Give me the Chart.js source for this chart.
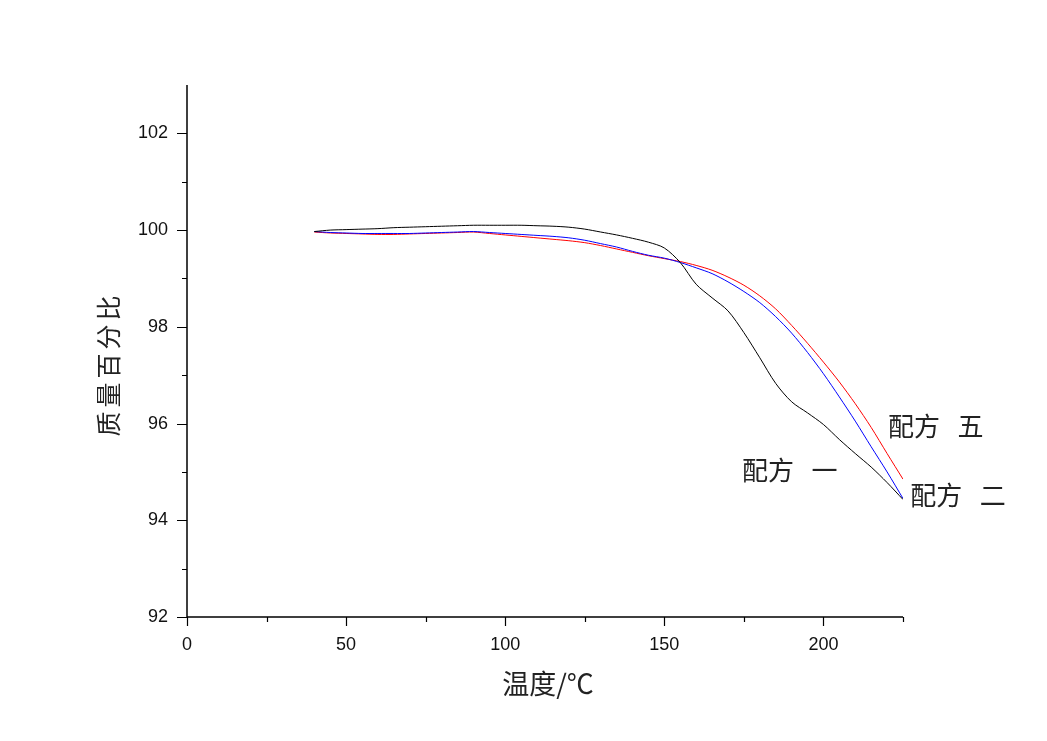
<!DOCTYPE html>
<html lang="zh">
<head>
    <meta charset="utf-8">
    <title>TG</title>
    <script src="https://cdn.jsdelivr.net/npm/chart.js@4.4.0/dist/chart.umd.min.js"></script>
    <style>
        body { margin: 0; background: #fff; }
        #wrap { width: 1047px; height: 741px; }
    </style>
</head>
<body>
<div id="wrap"><canvas id="myChart" width="1047" height="741"></canvas></div>
<script>
    // 温度 (°C)
    var temps = [40, 45, 50, 55, 60, 65, 70, 75, 80, 85, 90, 95, 100, 105, 110, 115, 120, 125, 130, 135,
        140, 145, 150, 155, 160, 165, 170, 175, 180, 185, 190, 195, 200, 205, 210, 215, 220, 225];
    // 配方 一
    var peifang1 = [99.97, 100.0, 100.01, 100.02, 100.03, 100.05, 100.06, 100.07, 100.08, 100.09, 100.1, 100.1, 100.1, 100.1, 100.09, 100.08, 100.06, 100.02, 99.96, 99.9,
        99.83, 99.75, 99.63, 99.33, 98.88, 98.6, 98.33, 97.88, 97.36, 96.83, 96.45, 96.22, 95.98, 95.67, 95.38, 95.1, 94.78, 94.43];
    // 配方 二
    var peifang2 = [99.97, 99.95, 99.94, 99.93, 99.93, 99.93, 99.93, 99.94, 99.95, 99.96, 99.97, 99.95, 99.93, 99.91, 99.89, 99.87, 99.84, 99.79, 99.72, 99.65,
        99.56, 99.48, 99.42, 99.33, 99.22, 99.1, 98.93, 98.73, 98.5, 98.21, 97.87, 97.47, 97.03, 96.55, 96.05, 95.52, 95.0, 94.45];
    // 配方 五
    var peifang5 = [99.96, 99.94, 99.93, 99.92, 99.91, 99.91, 99.92, 99.93, 99.94, 99.95, 99.96, 99.93, 99.9, 99.87, 99.84, 99.81, 99.78, 99.74, 99.68, 99.61,
        99.54, 99.47, 99.41, 99.35, 99.27, 99.17, 99.03, 98.86, 98.64, 98.37, 98.03, 97.66, 97.27, 96.86, 96.41, 95.92, 95.38, 94.85];

    var xTicks = [0, 50, 100, 150, 200];
    var yTicks = [92, 94, 96, 98, 100, 102];

    // curve labels: text, anchor in data units (temp, %)
    var curveLabels = [
        { text: '配方   五', x: 220.3, y: 95.95 },
        { text: '配方   一', x: 174.4, y: 95.03 },
        { text: '配方   二', x: 227.3, y: 94.53 }
    ];

    function pts(arr) {
        return temps.map(function (t, i) { return { x: t, y: arr[i] }; });
    }

    var cjk = '"Noto Sans CJK SC", sans-serif';

    var extras = {
        id: 'extras',
        afterDraw: function (chart) {
            var c = chart.ctx;
            var xs = chart.scales.x, ys = chart.scales.y;
            var area = chart.chartArea;
            c.save();
            c.strokeStyle = '#000';
            c.lineWidth = 1.5;
            // axis lines
            c.beginPath();
            c.moveTo(xs.getPixelForValue(0), ys.getPixelForValue(103));
            c.lineTo(xs.getPixelForValue(0), ys.getPixelForValue(92));
            c.lineTo(xs.getPixelForValue(225), ys.getPixelForValue(92));
            c.stroke();
            // ticks
            c.lineWidth = 1.2;
            c.beginPath();
            for (var v = 0; v <= 225; v += 25) {
                var px = Math.round(xs.getPixelForValue(v)) + 0.5;
                var len = v % 50 === 0 ? 9 : 5;
                c.moveTo(px, area.bottom);
                c.lineTo(px, area.bottom + len);
            }
            for (var w = 92; w <= 102; w++) {
                var py = Math.round(ys.getPixelForValue(w)) + 0.5;
                var l2 = w % 2 === 0 ? 10 : 5;
                c.moveTo(area.left, py);
                c.lineTo(area.left - l2, py);
            }
            c.stroke();

            // axis titles
            c.fillStyle = '#222';
            c.font = '27px ' + cjk;
            c.textAlign = 'center';
            c.textBaseline = 'middle';
            c.fillText('温度/℃', 548, 684);

            c.save();
            c.translate(108, 366);
            c.rotate(-Math.PI / 2);
            c.font = '25px ' + cjk;
            c.letterSpacing = '4px';
            c.fillText('质量百分比', 2, 0);
            c.restore();

            // curve labels
            c.font = '26px ' + cjk;
            c.textAlign = 'left';
            curveLabels.forEach(function (lb) {
                c.fillText(lb.text, xs.getPixelForValue(lb.x), ys.getPixelForValue(lb.y));
            });
            c.restore();
        }
    };

    var ctx = document.getElementById('myChart').getContext('2d');
    var chart = new Chart(ctx, {
        type: 'line',
        data: {
            datasets: [
                { label: '配方 一', data: pts(peifang1), borderColor: '#000000', borderWidth: 1, pointRadius: 0, tension: 0.3, fill: false },
                { label: '配方 二', data: pts(peifang2), borderColor: '#0000ff', borderWidth: 1, pointRadius: 0, tension: 0.3, fill: false },
                { label: '配方 五', data: pts(peifang5), borderColor: '#ff0000', borderWidth: 1, pointRadius: 0, tension: 0.3, fill: false }
            ]
        },
        options: {
            responsive: false,
            animation: false,
            layout: { padding: { left: 0, top: 85, right: 144, bottom: 0 } },
            plugins: { legend: { display: false }, tooltip: { enabled: false } },
            scales: {
                x: {
                    type: 'linear', min: 0, max: 225,
                    afterFit: function (s) { s.height = 124; },
                    afterBuildTicks: function (s) { s.ticks = xTicks.map(function (v) { return { value: v }; }); },
                    grid: { display: false },
                    border: { display: false },
                    ticks: { padding: 9, color: '#111', font: { family: 'Liberation Sans, Arial', size: 18 }, maxRotation: 0 }
                },
                y: {
                    type: 'linear', min: 92, max: 103,
                    afterFit: function (s) { s.width = 187; },
                    afterBuildTicks: function (s) { s.ticks = yTicks.map(function (v) { return { value: v }; }); },
                    grid: { display: false },
                    border: { display: false },
                    ticks: { padding: 11, color: '#111', font: { family: 'Liberation Sans, Arial', size: 18 } }
                }
            }
        },
        plugins: [extras]
    });
</script>
</body>
</html>
